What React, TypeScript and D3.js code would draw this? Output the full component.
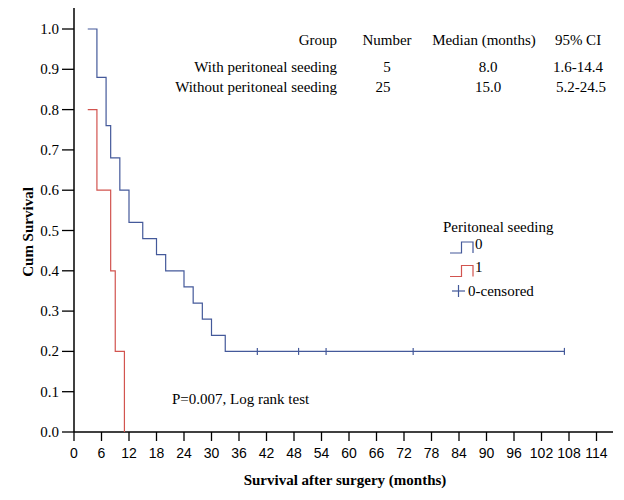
import * as d3 from "d3";
import { useRef, useEffect } from "react";

// Kaplan-Meier curves
const group0Times = [3, 5, 7, 8, 10, 12, 15, 18, 20, 24, 26, 28, 30, 33, 107];
const group0Surv = [1.0, 0.88, 0.76, 0.68, 0.6, 0.52, 0.48, 0.44, 0.4, 0.36, 0.32, 0.28, 0.24, 0.2, 0.2];
const group0Censored = [40, 49, 55, 74, 107];
const group1Times = [3, 5, 8, 9, 11];
const group1Surv = [0.8, 0.6, 0.4, 0.2, 0.0];

const xTicks = d3.range(0, 115, 6);
const yTicks = d3.range(0, 11).map((i) => i / 10);

const tableHeader = ["Group", "Number", "Median (months)", "95% CI"];
const tableGroups = ["With peritoneal seeding", "Without peritoneal seeding"];
const tableNumbers = ["5", "25"];
const tableMedians = ["8.0", "15.0"];
const tableCI = ["1.6-14.4", "5.2-24.5"];

const width = 624;
const height = 500;
const blue = "#44599a";
const red = "#d2544f";
const serif = "'Liberation Serif', 'Times New Roman', serif";
const narrow = "'Liberation Sans Narrow', 'Arial Narrow', sans-serif";

const App = () => {
  const ref = useRef(null);

  useEffect(() => {
    const svg = d3.select(ref.current);
    svg.selectAll("*").remove();

    const x = d3.scaleLinear().domain([0, 117.6]).range([74, 613]);
    const y = d3.scaleLinear().domain([0, 1.0546]).range([432, 7]);

    svg.append("rect").attr("width", width).attr("height", height).attr("fill", "#fff");

    // x axis
    const gx = svg.append("g").attr("transform", `translate(0,${y(0)})`);
    gx.append("line").attr("x1", x(0)).attr("x2", x(117.6)).attr("stroke", "#000").attr("stroke-width", 1.5);
    gx.selectAll(".xt")
      .data(xTicks)
      .enter()
      .append("line")
      .attr("x1", (d) => x(d))
      .attr("x2", (d) => x(d))
      .attr("y1", 0)
      .attr("y2", 9)
      .attr("stroke", "#000")
      .attr("stroke-width", 1.3);
    gx.selectAll(".xl")
      .data(xTicks)
      .enter()
      .append("text")
      .attr("x", (d) => x(d))
      .attr("y", 26)
      .attr("text-anchor", "middle")
      .attr("font-family", narrow)
      .attr("font-size", 14)
      .text((d) => d);

    // y axis
    const gy = svg.append("g").attr("transform", `translate(${x(0)},0)`);
    gy.append("line").attr("y1", y(0)).attr("y2", y(1.0546)).attr("stroke", "#000").attr("stroke-width", 1.5);
    gy.selectAll(".yt")
      .data(yTicks)
      .enter()
      .append("line")
      .attr("x1", -12)
      .attr("x2", 0)
      .attr("y1", (d) => y(d))
      .attr("y2", (d) => y(d))
      .attr("stroke", "#000")
      .attr("stroke-width", 1.3);
    gy.selectAll(".yl")
      .data(yTicks)
      .enter()
      .append("text")
      .attr("x", -15)
      .attr("y", (d) => y(d) + 5)
      .attr("text-anchor", "end")
      .attr("font-family", serif)
      .attr("font-size", 15)
      .text((d) => d.toFixed(1));

    // axis titles
    svg.append("text")
      .attr("transform", `translate(33,232) rotate(-90)`)
      .attr("text-anchor", "middle")
      .attr("font-family", serif)
      .attr("font-weight", "bold")
      .attr("font-size", 15)
      .text("Cum Survival");
    svg.append("text")
      .attr("x", 345)
      .attr("y", 485)
      .attr("text-anchor", "middle")
      .attr("font-family", serif)
      .attr("font-weight", "bold")
      .attr("font-size", 15)
      .text("Survival after surgery (months)");

    // curves
    const line = d3.line().x((d) => x(d[0])).y((d) => y(d[1])).curve(d3.curveStepAfter);
    svg.append("path")
      .attr("d", line(group1Times.map((t, i) => [t, group1Surv[i]])))
      .attr("fill", "none")
      .attr("stroke", red)
      .attr("stroke-width", 1.2);
    svg.append("path")
      .attr("d", line(group0Times.map((t, i) => [t, group0Surv[i]])))
      .attr("fill", "none")
      .attr("stroke", blue)
      .attr("stroke-width", 1.2);

    // censor marks
    svg.selectAll(".cens")
      .data(group0Censored)
      .enter()
      .append("line")
      .attr("x1", (d) => x(d))
      .attr("x2", (d) => x(d))
      .attr("y1", y(0.2) - 3.5)
      .attr("y2", y(0.2) + 3.5)
      .attr("stroke", blue)
      .attr("stroke-width", 1.2);

    // table
    const colX = [337, 387, 484, 578];
    const colAnchor = ["end", "middle", "middle", "middle"];
    const table = svg.append("g").attr("font-family", serif).attr("font-size", 15);
    tableHeader.forEach((h, i) => {
      table.append("text").attr("x", colX[i]).attr("y", 45).attr("text-anchor", colAnchor[i]).text(h);
    });
    tableGroups.forEach((g, r) => {
      const yy = 72 + r * 20;
      const row = [g, tableNumbers[r], tableMedians[r], tableCI[r]];
      row.forEach((v, i) => {
        table.append("text")
          .attr("x", colX[i] + (i === 1 && r === 1 ? -4 : 0) + (i === 3 && r === 1 ? 3 : 0) + (i === 2 ? 4 : 0))
          .attr("y", yy)
          .attr("text-anchor", colAnchor[i])
          .text(v);
      });
    });

    // legend
    const lg = svg.append("g").attr("font-family", serif).attr("font-size", 15);
    lg.append("text").attr("x", 443).attr("y", 232).text("Peritoneal seeding");
    const stepIcon = (yb, color) =>
      `M450,${yb}H461.5V${yb - 11}H473V${yb}`;
    lg.append("path").attr("d", stepIcon(253, blue)).attr("fill", "none").attr("stroke", blue).attr("stroke-width", 1.2);
    lg.append("text").attr("x", 475).attr("y", 249).text("0");
    lg.append("path").attr("d", stepIcon(276.5, red)).attr("fill", "none").attr("stroke", red).attr("stroke-width", 1.2);
    lg.append("text").attr("x", 475).attr("y", 272).text("1");
    lg.append("line").attr("x1", 452).attr("x2", 465).attr("y1", 291).attr("y2", 291).attr("stroke", blue).attr("stroke-width", 1.2);
    lg.append("line").attr("x1", 458.5).attr("x2", 458.5).attr("y1", 285).attr("y2", 297).attr("stroke", blue).attr("stroke-width", 1.2);
    lg.append("text").attr("x", 468).attr("y", 296).text("0-censored");

    // p value
    svg.append("text")
      .attr("x", 172)
      .attr("y", 404)
      .attr("font-family", serif)
      .attr("font-size", 15)
      .text("P=0.007, Log rank test");
  }, []);

  return <svg ref={ref} width={width} height={height} style={{ display: "block", margin: "-8px" }} />;
};

export default App;
